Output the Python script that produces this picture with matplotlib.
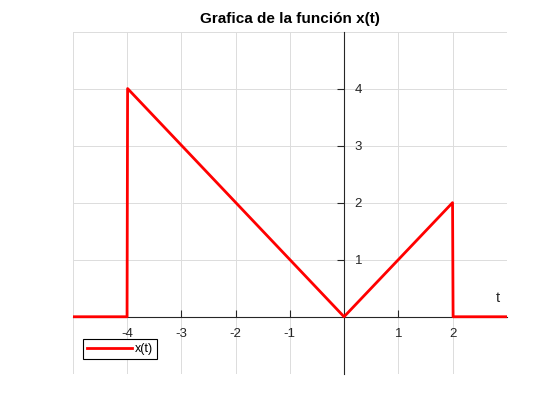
import matplotlib
matplotlib.use("Agg")
import matplotlib.pyplot as plt

# signal x(t): ramp down from 4 at t=-4 to 0 at t=0, ramp up to 2 at t=2
t_vals = [-5, -4, -3.99, 0, 2, 2.01, 3]
x_vals = [0, 0, 4, 0, 2, 0, 0]

x_ticks = [-4, -3, -2, -1, 1, 2]
y_ticks = [1, 2, 3, 4]
x_grid = range(-5, 4)
y_grid = range(-1, 6)

plt.rcParams['font.family'] = ['Liberation Sans', 'DejaVu Sans']

fig = plt.figure(figsize=(5.6, 4.2), dpi=100)
ax = fig.add_axes([0.13, 0.11, 0.775, 0.815])

# grid at every integer
for g in x_grid:
    ax.axvline(g, color='#dcdcdc', linewidth=0.7, zorder=0)
for g in y_grid:
    ax.axhline(g, color='#dcdcdc', linewidth=0.7, zorder=0)

ax.plot(t_vals, x_vals, color='red', linewidth=2, label='x(t)', zorder=3)

ax.set_xlim(-5, 3)
ax.set_ylim(-1, 5)

ax.set_xticks(x_ticks)
ax.set_yticks(y_ticks)
ax.set_xticklabels([str(v) for v in x_ticks])
ax.set_yticklabels([str(v) for v in y_ticks], ha='left')

# axes through the origin, MATLAB style
ax.spines['left'].set_position(('data', 0))
ax.spines['bottom'].set_position(('data', 0))
ax.spines['right'].set_visible(False)
ax.spines['top'].set_visible(False)
for s in ('left', 'bottom'):
    ax.spines[s].set_color('#262626')
    ax.spines[s].set_linewidth(0.8)
    ax.spines[s].set_zorder(2)

ax.tick_params(axis='x', direction='in', length=5, pad=8, colors='#262626', labelsize=9.5)
ax.tick_params(axis='y', direction='out', length=5, pad=-18, colors='#262626', labelsize=9.5)

ax.text(2.83, 0.32, 't', fontsize=10.5, color='#262626', ha='center', va='center')

ax.set_title('Grafica de la función x(t)', fontsize=11, fontweight='bold', pad=6)

leg = ax.legend(loc='lower left', bbox_to_anchor=(0.01, 0.025), fontsize=9,
                fancybox=False, framealpha=1, edgecolor='black',
                handlelength=3.6, handletextpad=0.2, borderpad=0.3)
leg.get_frame().set_linewidth(0.8)

fig.savefig('out.png', dpi=100)
